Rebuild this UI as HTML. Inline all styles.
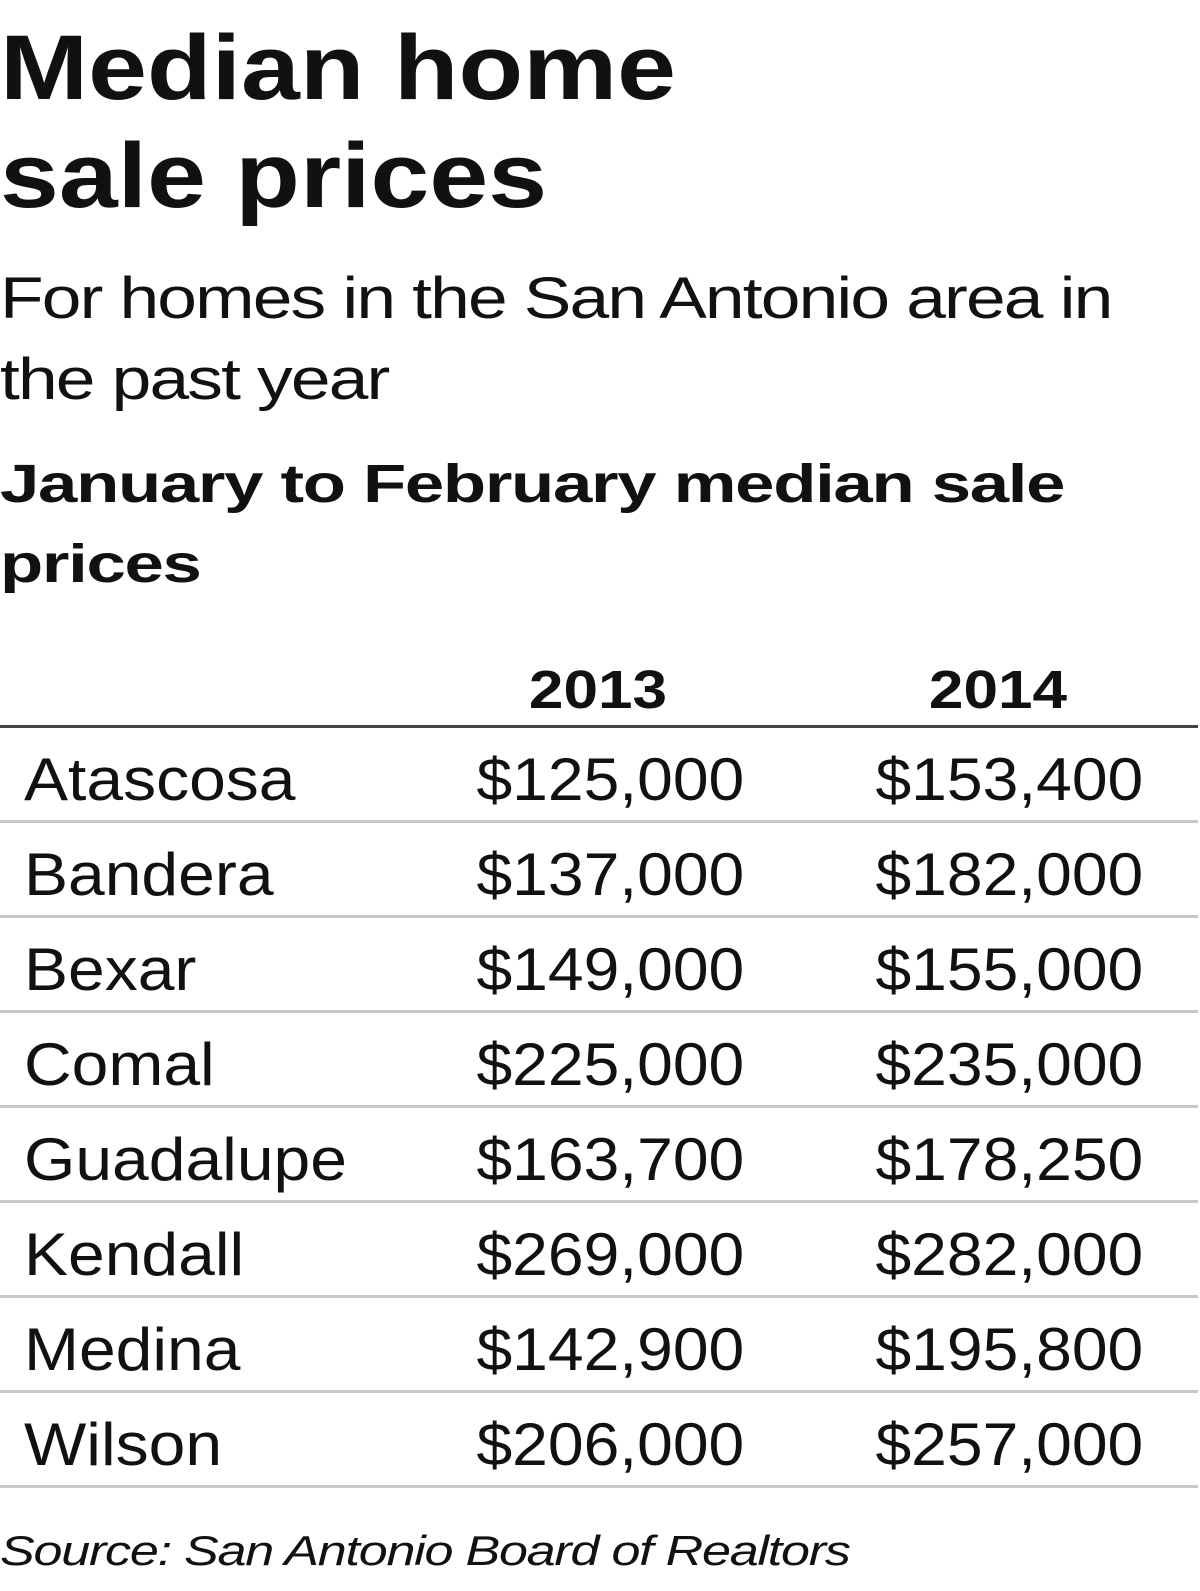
<!DOCTYPE html>
<html><head><style>
body{margin:0;width:1200px;height:1591px;background:#fff;position:relative;overflow:hidden;font-family:"Liberation Sans",sans-serif;color:#111}
.t{position:absolute;white-space:nowrap;line-height:1;transform-origin:0 0}
.h1{font-weight:bold;font-size:92px;left:0;letter-spacing:0px;transform:scaleX(1.15)}
.sub{font-size:58px;left:0;letter-spacing:-1.5px;transform:scaleX(1.23)}
.h2{font-weight:bold;font-size:54px;left:0;letter-spacing:-1px;transform:scaleX(1.31)}
.row{position:absolute;left:0;width:1198px;height:95px;border-bottom:3px solid #c8c8c8;box-sizing:border-box}
.row span{position:absolute;top:22px;font-size:60px;line-height:1}
.n{left:24px;transform:scaleX(1.1);transform-origin:0 0}
.a{right:454px;transform:scaleX(1.07);transform-origin:100% 0}
.b{right:55px;transform:scaleX(1.07);transform-origin:100% 0}
.yh{position:absolute;top:663px;width:200px;text-align:center;font-weight:bold;font-size:54px;line-height:1;transform:scaleX(1.15)}
</style></head><body>
<div class="t h1" style="top:22px">Median home</div>
<div class="t h1" style="top:130px">sale prices</div>
<div class="t sub" style="top:270px">For homes in the San Antonio area in</div>
<div class="t sub" style="top:351px">the past year</div>
<div class="t h2" style="top:457px">January to February median sale</div>
<div class="t h2" style="top:537px">prices</div>
<div class="yh" style="left:498px">2013</div>
<div class="yh" style="left:898px">2014</div>
<div style="position:absolute;top:725px;left:0;width:1198px;height:3px;background:#444"></div>
<div class="row" style="top:728px"><span class="n">Atascosa</span><span class="a">$125,000</span><span class="b">$153,400</span></div>
<div class="row" style="top:823px"><span class="n">Bandera</span><span class="a">$137,000</span><span class="b">$182,000</span></div>
<div class="row" style="top:918px"><span class="n">Bexar</span><span class="a">$149,000</span><span class="b">$155,000</span></div>
<div class="row" style="top:1013px"><span class="n">Comal</span><span class="a">$225,000</span><span class="b">$235,000</span></div>
<div class="row" style="top:1108px"><span class="n">Guadalupe</span><span class="a">$163,700</span><span class="b">$178,250</span></div>
<div class="row" style="top:1203px"><span class="n">Kendall</span><span class="a">$269,000</span><span class="b">$282,000</span></div>
<div class="row" style="top:1298px"><span class="n">Medina</span><span class="a">$142,900</span><span class="b">$195,800</span></div>
<div class="row" style="top:1393px"><span class="n">Wilson</span><span class="a">$206,000</span><span class="b">$257,000</span></div>
<div class="t" style="top:1530px;left:0;font-style:italic;font-size:42px;letter-spacing:-1px;transform:scaleX(1.24)">Source: San Antonio Board of Realtors</div>
</body></html>
